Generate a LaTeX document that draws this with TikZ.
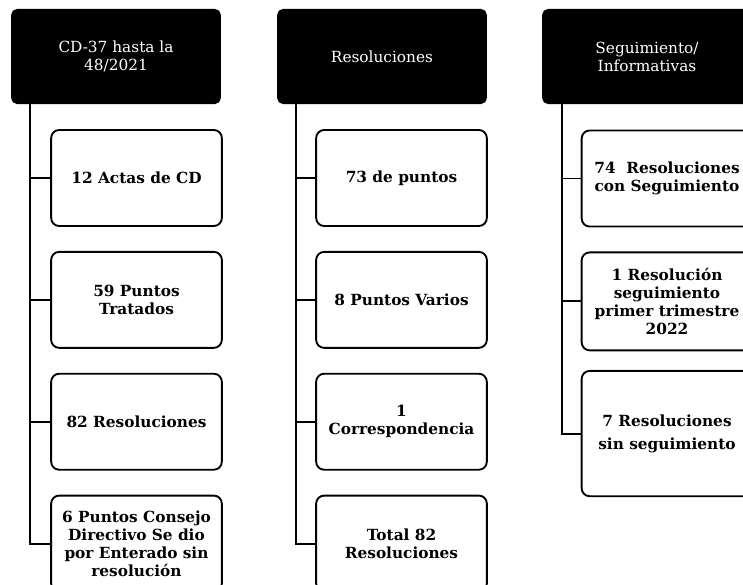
\documentclass[tikz,border=0pt]{standalone}
\usepackage{fontspec}
\setmainfont{DejaVu Serif}
\usetikzlibrary{positioning}

\begin{document}
\begin{tikzpicture}[x=0.75pt, y=-0.75pt, line width=1.4pt, node distance=18pt]
      \tikzstyle{head}=[fill=black, draw=black, rounded corners=4pt, text=white, minimum width=156pt, minimum height=70pt, align=center, font=\fontsize{11.5}{13.5}\selectfont]
      \tikzstyle{item}=[fill=white, draw=black, rounded corners=6pt, minimum width=128pt, minimum height=72pt, align=center, inner sep=2pt, font=\fontsize{11.5}{13.5}\selectfont\bfseries]

      \useasboundingbox (0,0) rectangle (743,585);
      \clip (0,0) rectangle (743,585);

      % CD-37 hasta la 48/2021
      \node[head] (H1) at (116,56.5) {CD-37 hasta la\\48/2021};
      \node[item] (A1) at (136.5,178) {12 Actas de CD};
      \node[item] (A2) [below=of A1] {59 Puntos\\Tratados};
      \node[item] (A3) [below=of A2] {82 Resoluciones};
      \node[item] (A4) [below=of A3] {6 Puntos Consejo\\Directivo Se dio\\por Enterado sin\\resolución};
      \coordinate (V1) at ([xshift=14pt]H1.south west);
      \foreach \i in {1,...,4} \draw (V1) |- (A\i.west);

      % Resoluciones
      \node[head] (H2) at (382,56.5) {Resoluciones};
      \node[item] (B1) at (401.5,178) {73 de puntos};
      \node[item] (B2) [below=of B1] {8 Puntos Varios};
      \node[item] (B3) [below=of B2] {1\\Correspondencia};
      \node[item] (B4) [below=of B3] {Total 82\\Resoluciones};
      \coordinate (V2) at ([xshift=14pt]H2.south west);
      \foreach \i in {1,...,4} \draw (V2) |- (B\i.west);

      % Seguimiento/Informativas
      \node[head] (H3) at (647,56.5) {Seguimiento/\\Informativas};
      \node[item] (C1) at (667,178.5) {74~ Resoluciones\\con Seguimiento};
      \node[item, minimum height=73.5pt] (C2) [below=of C1] {1 Resolución\\seguimiento\\primer trimestre\\2022};
      \node[item, minimum height=94pt] (C3) [below=14pt of C2] {7 Resoluciones\\[4pt]sin seguimiento};
      \coordinate (V3) at ([xshift=15pt]H3.south west);
      \foreach \i in {1,...,3} \draw (V3) |- (C\i.west);

\end{tikzpicture}
\end{document}
